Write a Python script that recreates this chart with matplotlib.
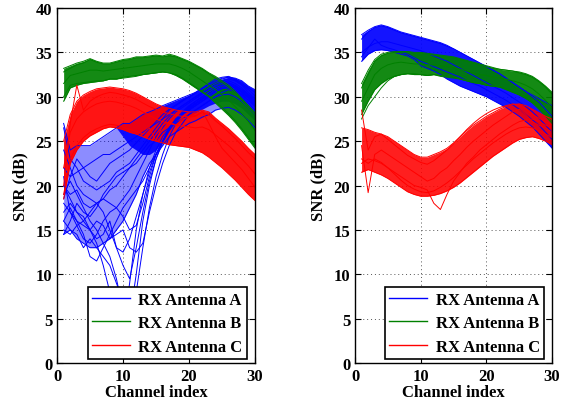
import numpy as np
import matplotlib
matplotlib.use("Agg")
import matplotlib.pyplot as plt

plt.rcParams['font.family'] = ['Liberation Serif', 'DejaVu Serif']
plt.rcParams['font.weight'] = 'bold'

channels = list(range(1, 31))
labels = ["RX Antenna A", "RX Antenna B", "RX Antenna C"]
colors = ["#0000ff", "#008000", "#ff0000"]

# ---------------- Left panel ----------------
L_A_high = [27, 24, 24.5, 24.5, 24.5, 25, 25.5, 26, 26.5, 27, 27, 27.5, 28, 28.3, 28.6,
            29, 29.3, 29.6, 29.9, 30.2, 30.5, 30.9, 31.3, 31.7, 32, 32.2, 32.1, 31.8, 31.2, 30.8]
L_A_low = [14.5, 15, 14, 13.5, 13, 13, 13.5, 14, 15, 16, 17.5, 19, 21, 22.5, 23.5,
           24.5, 25.5, 26, 26.5, 27, 27.3, 27.7, 28, 28.5, 28.7, 28.8, 28.5, 28, 27.3, 26.5]
L_A_core_low = [np.nan] * 8 + [26.5, 25.5, 24.5, 24, 23.5, 23.5, 24, 25, 26, 26.8, 27.3, 27.7,
                               28.2, 28.6, 29, 29.3, 29.5, 29.5, 29.2, 28.7, 28, 27.3]
L_A_lines = [
    [18, 17, 16, 15.5, 15, 13.5, 11, 8, 5, 4, 9, 15, 19, 22, 24, 25.5, 26.5, 27.5, 28, 28.5, 29, 29.5, 30, 30.5, 31, 31.2, 31, 30.5, 30, 29.5],
    [16, 15, 14.5, 13, 14, 13, 12, 11, 9, 7, 5, 10, 16, 20, 23, 25, 26.5, 27.5, 28.3, 29, 29.5, 30, 30.5, 31, 31.3, 31.5, 31.2, 30.8, 30.2, 29.5],
    [20, 19, 19.5, 18, 17.5, 18, 18.5, 18, 17.5, 16.5, 15, 15.5, 18, 21, 23.5, 25, 26.5, 27.5, 28, 28.5, 29, 29.5, 30, 30.5, 31, 31.3, 31, 30.5, 29.8, 29],
    [22, 21, 21.5, 22, 22.5, 23, 23.5, 23.5, 24, 24.5, 25, 25.5, 26, 26.5, 27, 27.5, 28, 28.5, 29, 29.5, 30, 30.5, 31, 31.5, 31.8, 32, 31.8, 31.3, 30.5, 29.8],
    [15, 14.5, 15.5, 16, 17, 18, 18.5, 19.5, 20, 21, 22, 22.5, 23.5, 24.5, 25, 26, 26.5, 27, 27.5, 28, 28.5, 29, 29.5, 30, 30.5, 30.8, 30.6, 30, 29.3, 28.5],
    [17, 18, 17, 16, 15, 16, 15.5, 14, 14.5, 15, 13, 12.5, 13.5, 17, 20, 22.5, 24.5, 26, 27, 28, 28.5, 29, 29.5, 30, 30.2, 30.3, 30, 29.5, 28.8, 28],
    [26.5, 23, 22, 20.5, 20, 19.5, 20, 20.5, 21.5, 22, 22.5, 23.5, 24.5, 25.5, 26.5, 27.5, 28.5, 29, 29.5, 30, 30.5, 31, 31.5, 32, 32.2, 32.3, 32, 31.5, 31, 30.5],
    [19, 20.5, 19, 17.5, 16, 15, 13.5, 12, 9.5, 6, 4, 8, 13, 17.5, 21, 23.5, 25.5, 27, 28, 28.7, 29.2, 29.7, 30.2, 30.7, 31, 31, 30.7, 30.2, 29.6, 29],
    [14.5, 16, 18, 17, 16.5, 17.5, 19, 20, 21, 21.5, 22, 23, 24, 25, 26, 27, 27.8, 28.5, 29, 29.5, 30, 30.4, 30.8, 31.2, 31.5, 31.6, 31.3, 30.8, 30.2, 29.5],
    [21, 17, 15.5, 14, 13.5, 14.5, 16, 17, 17.5, 18.5, 19.5, 21, 22.5, 24, 25.5, 26.5, 27.5, 28.3, 28.8, 29.3, 29.8, 30.3, 30.8, 31.3, 31.6, 31.8, 31.5, 31, 30.3, 29.6],
    [24, 22, 20, 19, 18.5, 18, 17, 15, 13, 12.5, 14, 16.5, 19, 21.5, 23.5, 25, 26.3, 27.3, 28.1, 28.8, 29.3, 29.8, 30.3, 30.8, 31.2, 31.4, 31.1, 30.6, 30, 29.3],
    [18.5, 21, 23, 22, 21, 20.5, 21.5, 22.5, 23, 23.5, 24, 24.8, 25.6, 26.4, 27.2, 28, 28.6, 29.1, 29.6, 30, 30.4, 30.9, 31.4, 31.8, 32.1, 32.2, 31.9, 31.4, 30.8, 30.1],
    [16, 17.5, 16, 14.5, 12, 11.5, 13, 14.5, 16, 17.5, 18.5, 19.5, 20.5, 22, 23.5, 25, 26.2, 27.2, 28, 28.6, 29.2, 29.7, 30.2, 30.6, 30.9, 31, 30.8, 30.3, 29.6, 28.9],
    [20, 18.5, 17, 16.5, 15, 14, 14.5, 16, 13, 11, 9.5, 13, 17, 20.5, 23, 24.8, 26.2, 27.3, 28.2, 28.9, 29.5, 30, 30.5, 31, 31.3, 31.4, 31.1, 30.6, 29.9, 29.2],
]

L_B_high = [33.2, 33.5, 33.8, 34, 34.3, 34, 33.8, 33.8, 34, 34.2, 34.3, 34.5, 34.5, 34.6, 34.7,
            34.6, 34.8, 34.6, 34.3, 34, 33.6, 33.2, 32.7, 32.3, 31.8, 31.3, 30.6, 29.8, 29, 28.2]
L_B_low = [29.5, 31, 31.3, 31.5, 31.6, 31.7, 31.8, 32, 32, 32.2, 32.3, 32.4, 32.5, 32.6, 32.7,
           32.8, 32.7, 32.4, 32, 31.5, 31, 30.5, 30, 29.3, 28.6, 27.9, 27.1, 26.2, 25.2, 24.2]
L_B_lines = [
    [30, 31.3, 31.5, 31.6, 31.7, 31.8, 31.8, 32, 32, 32.1, 32.2, 32.3, 32.5, 32.6, 32.7, 32.8, 32.7, 32.5, 32.1, 31.6, 31.1, 30.6, 30.1, 29.5, 28.8, 28.1, 27.3, 26.4, 25.4, 24.4],
    [32.8, 33.2, 33.6, 33.8, 34.2, 33.9, 33.7, 33.7, 33.9, 34.1, 34.2, 34.4, 34.4, 34.5, 34.6, 34.5, 34.6, 34.5, 34.2, 33.9, 33.5, 33.1, 32.6, 32.1, 31.6, 31.1, 30.4, 29.6, 28.8, 28],
    [31.5, 32.4, 32.6, 32.8, 33, 33, 32.9, 33, 33.1, 33.2, 33.3, 33.4, 33.5, 33.6, 33.7, 33.7, 33.7, 33.5, 33.2, 32.8, 32.3, 31.8, 31.3, 30.8, 30.2, 29.6, 28.9, 28.1, 27.2, 26.2],
]

L_C_high = [25, 28, 29.5, 30.2, 30.6, 30.9, 31, 31.1, 31, 30.9, 30.7, 30.4, 30, 29.6, 29.2,
            28.9, 28.7, 28.5, 28.4, 28.3, 28.3, 28.5, 28.3, 27.6, 27, 26.4, 25.7, 25, 24.2, 23.5]
L_C_low = [18.5, 22.5, 24, 25, 25.6, 26, 26.4, 26.6, 26.5, 26.3, 26, 25.8, 25.5, 25.2, 25,
           24.8, 24.6, 24.5, 24.4, 24.3, 24, 23.7, 23.2, 22.6, 22, 21.3, 20.6, 19.8, 19, 18.3]
L_C_lines = [
    [20, 27, 31.3, 28.5, 29.5, 30, 30.3, 30.5, 30.4, 30.2, 30, 29.7, 29.3, 28.9, 28.6, 28.3, 28.1, 27.9, 27.8, 27.8, 27.9, 28.2, 28, 27.3, 26.7, 26, 25.3, 24.5, 23.7, 23],
    [19, 23, 24.5, 25.4, 26, 26.4, 26.7, 26.9, 26.8, 26.6, 26.3, 26.1, 25.8, 26.5, 25, 26.8, 27.2, 26.8, 27.5, 27.7, 27.8, 28.4, 27, 25.5, 24.2, 23.4, 22.6, 21.8, 20.8, 19.8],
    [22, 26, 27.5, 28.3, 28.8, 29.2, 29.4, 29.5, 29.4, 29.2, 29, 28.7, 28.3, 27.9, 27.5, 27.2, 27, 26.8, 26.7, 26.6, 26.5, 26.6, 26.3, 25.7, 25.1, 24.5, 23.8, 23, 22.2, 21.3],
]

# ---------------- Right panel ----------------
R_A_high = [37, 37.5, 37.9, 38.1, 37.9, 37.6, 37.3, 37.1, 36.9, 36.7, 36.5, 36.3, 36.1, 35.8, 35.4,
            35, 34.6, 34.2, 33.8, 33.4, 33, 32.6, 32.1, 31.6, 31.1, 30.6, 30.2, 29.8, 29.4, 29]
R_A_low = [34, 34.8, 35.2, 35.3, 35.2, 35, 34.8, 34.6, 34.2, 33.5, 33.2, 32.9, 32.5, 32, 31.6,
           31.2, 30.9, 30.6, 30.3, 30, 29.6, 29.2, 28.8, 28.3, 27.8, 27.2, 26.6, 25.8, 25, 24.2]
R_A_lines = [
    [34.5, 35.5, 36.5, 35.8, 35.5, 35.3, 35, 34.8, 34.4, 34, 33.7, 33.4, 33.1, 32.8, 32.5, 32.2, 31.8, 31.5, 31.2, 30.8, 30.4, 30, 29.6, 29.1, 28.6, 28, 27.4, 26.8, 26, 25.2],
    [36.5, 37.3, 37.8, 38, 37.8, 37.5, 37.2, 37, 36.8, 36.6, 36.4, 36.2, 36, 35.7, 35.4, 35, 34.6, 34.2, 33.8, 33.4, 33, 32.6, 32.1, 31.6, 31.1, 30.6, 30, 29.4, 28.6, 27.8],
    [35, 35.6, 36, 36.2, 36.2, 36, 35.8, 35.6, 35.4, 35.2, 34.9, 34.6, 34.3, 34, 33.6, 33.2, 32.8, 32.4, 32, 31.6, 31.2, 30.8, 30.4, 29.9, 29.4, 28.9, 28.3, 27.6, 26.8, 26],
]

R_B_high = [31.5, 33, 34.2, 34.8, 35, 35.1, 35.1, 35.1, 35, 35, 34.9, 34.8, 34.7, 34.6, 34.5,
            34.3, 34.1, 33.9, 33.7, 33.5, 33.3, 33.1, 33, 32.9, 32.8, 32.6, 32.3, 31.8, 31.2, 30.5]
R_B_low = [28, 29.5, 30.8, 31.5, 32, 32.3, 32.5, 32.6, 32.5, 32.5, 32.4, 32.5, 32.4, 32.3, 32.2,
           32, 31.8, 31.6, 31.5, 31.3, 31.2, 31.1, 30.8, 30.5, 30.2, 29.8, 29.3, 28.6, 27.8, 27]
R_B_lines = [
    [27.5, 29, 30, 31, 31.8, 32.3, 32.5, 32.6, 32.6, 32.5, 32.4, 32.5, 32.3, 32.2, 32.1, 32, 31.8, 31.6, 31.5, 31.3, 31.2, 31.1, 30.9, 30.6, 30.3, 29.9, 29.4, 28.8, 28, 27.2],
    [31, 32.5, 34, 34.6, 34.9, 35, 35, 35.1, 34.9, 34.9, 34.8, 34.7, 34.6, 34.5, 34.4, 34.2, 34, 33.8, 33.6, 33.4, 33.2, 33.1, 33, 32.9, 32.7, 32.5, 32.2, 31.7, 31.1, 30.3],
    [29.5, 31, 32.5, 33.2, 33.6, 33.8, 33.9, 33.8, 33.7, 33.7, 33.6, 33.6, 33.5, 33.4, 33.3, 33.1, 32.9, 32.7, 32.5, 32.4, 32.2, 32.1, 32, 31.8, 31.6, 31.3, 30.9, 30.3, 29.6, 28.8],
]

R_C_high = [26.5, 26.3, 26, 25.8, 25.5, 25, 24.5, 24, 23.5, 23.2, 23.2, 23.5, 23.8, 24.2, 24.8,
            25.5, 26.2, 26.8, 27.3, 27.8, 28.2, 28.6, 28.9, 29.1, 29.2, 29, 28.6, 28.2, 27.8, 27.5]
R_C_low = [21.5, 21.8, 21.5, 21.2, 20.8, 20.3, 19.8, 19.3, 19, 18.8, 18.8, 18.9, 19.1, 19.4, 19.8,
           20.3, 20.9, 21.5, 22.1, 22.7, 23.3, 23.8, 24.3, 24.8, 25.2, 25.4, 25.5, 25.3, 25, 24.6]
R_C_lines = [
    [24.5, 19.2, 23.5, 24, 23.5, 23, 22.5, 22, 21.5, 21, 20.5, 20.8, 21.5, 22, 22.8, 23.5, 24.3, 25, 25.6, 26.2, 26.8, 27.3, 27.8, 28.3, 28.6, 28, 27.2, 26.8, 26.5, 26],
    [22.5, 23, 22.8, 22.5, 22, 21.5, 21, 20.5, 20, 19.8, 19.5, 18, 17.3, 19, 20.5, 21.5, 22.5, 23.2, 24, 24.6, 25.2, 25.8, 26.3, 26.8, 27.2, 27.4, 27.5, 27.2, 26.8, 26.5],
    [28.5, 24, 25.5, 25.8, 25.2, 24.6, 24, 23.4, 23, 22.6, 22.4, 22.8, 23.4, 24, 24.7, 25.5, 26.3, 27, 27.6, 28.1, 28.5, 28.8, 29, 29.2, 29.1, 28.6, 28, 27.6, 27.2, 26.8],
    [23, 22.5, 23, 22.6, 22, 21.3, 20.6, 20, 19.6, 19.3, 19.2, 19.4, 19.8, 20.3, 20.9, 21.6, 22.3, 23, 23.6, 24.2, 24.8, 25.3, 25.8, 26.2, 26.5, 26.6, 26.5, 26.2, 25.8, 25.4],
]

x_ticks = [0, 10, 20, 30]
y_ticks = [0, 5, 10, 15, 20, 25, 30, 35, 40]

fig = plt.figure(figsize=(5.68, 4.10), dpi=100)
ax1 = fig.add_axes([0.1004, 0.112, 0.3486, 0.866])
ax2 = fig.add_axes([0.625, 0.112, 0.347, 0.866])

x = np.array(channels)

def band(ax, low, high, color, alpha=0.92):
    ax.fill_between(x, np.array(low, float), np.array(high, float), color=color,
                    alpha=alpha, linewidth=0, zorder=2)
    ax.plot(x, high, color=color, lw=0.7, zorder=3)
    ax.plot(x, low, color=color, lw=0.7, zorder=3)

def lines(ax, ls, color):
    for l in ls:
        ax.plot(x, l, color=color, lw=0.7, zorder=3)

# left panel
ax1.fill_between(x, L_A_low, L_A_high, color=colors[0], alpha=0.45, linewidth=0, zorder=2)
core = np.array(L_A_core_low, float)
ax1.fill_between(x, core, L_A_high, where=~np.isnan(core), color=colors[0], alpha=0.92,
                 linewidth=0, zorder=2)
ax1.plot(x, L_A_high, color=colors[0], lw=0.7, zorder=3)
ax1.plot(x, L_A_low, color=colors[0], lw=0.7, zorder=3)
lines(ax1, L_A_lines, colors[0])
band(ax1, L_B_low, L_B_high, colors[1])
lines(ax1, L_B_lines, colors[1])
band(ax1, L_C_low, L_C_high, colors[2])
lines(ax1, L_C_lines, colors[2])

# right panel
band(ax2, R_A_low, R_A_high, colors[0])
lines(ax2, R_A_lines, colors[0])
band(ax2, R_B_low, R_B_high, colors[1])
lines(ax2, R_B_lines, colors[1])
band(ax2, R_C_low, R_C_high, colors[2], alpha=0.88)
lines(ax2, R_C_lines, colors[2])

for ax in (ax1, ax2):
    ax.set_xlim(0, 30)
    ax.set_ylim(0, 40)
    ax.set_xticks(x_ticks)
    ax.set_yticks(y_ticks)
    ax.tick_params(direction='in', top=True, right=True, labelsize=12, length=4, width=0.8)
    for lab in ax.get_xticklabels() + ax.get_yticklabels():
        lab.set_fontweight('bold')
    ax.grid(True, linestyle=(0, (1, 3)), color='#555555', linewidth=0.7, zorder=1)
    ax.set_axisbelow(True)
    for s in ax.spines.values():
        s.set_linewidth(1.0)
        s.set_zorder(10)
    ax.set_xlabel("Channel index", fontsize=12, fontweight='bold', labelpad=0)
    ax.set_ylabel("SNR (dB)", fontsize=12, fontweight='bold', labelpad=5)
    handles = [plt.Line2D([], [], color=c, lw=1.0) for c in colors]
    leg = ax.legend(handles, labels, loc='lower right', bbox_to_anchor=(0.975, 0.003),
                    prop={'size': 12, 'weight': 'bold'}, fancybox=False, framealpha=1,
                    edgecolor='black', handlelength=2.3, borderpad=0.25, labelspacing=0.45,
                    handletextpad=0.5, borderaxespad=0.2)
    leg.get_frame().set_linewidth(1.2)
    leg.set_zorder(20)

fig.savefig("out.png", dpi=100)
